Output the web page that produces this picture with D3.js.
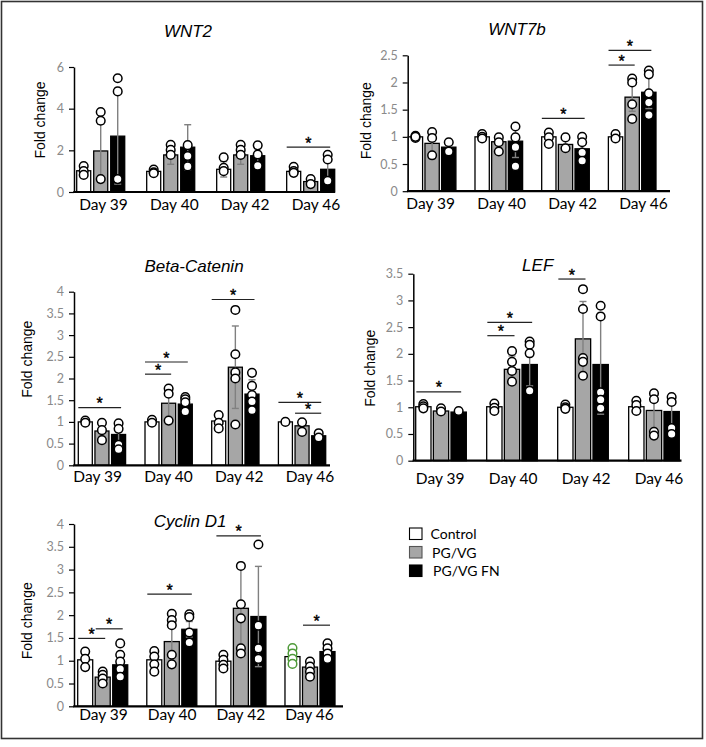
<!DOCTYPE html>
<html><head><meta charset="utf-8">
<script src="https://cdn.jsdelivr.net/npm/d3@7"></script>
<style>body{margin:0;background:#fff}</style>
</head><body><svg id="c" width="706" height="747"></svg>
<script>
// ---------------- DATA ----------------
const days = ["Day 39", "Day 40", "Day 42", "Day 46"];
const series = ["Control", "PG/VG", "PG/VG FN"];

// WNT2 : [series][day]
const wnt2Mean = [[1.02, 0.99, 1.09, 0.99], [1.97, 1.78, 1.78, 0.50], [2.68, 2.15, 1.74, 1.09]];
const wnt2Sd = [[0.2, 0.1, 0.37, 0.12], [1.28, 0.45, 0.45, 0.12], [2.3, 1.08, 0.45, 0.4]];
const wnt2Pts = [
  [[1.25, 1.0, 0.82], [1.08, 0.95, 0.9], [1.66, 1.16, 1.0], [1.21, 1.0, 0.92]],
  [[3.84, 3.42, 0.62], [2.27, 2.02, 1.78], [2.27, 2.02, 1.78], [0.62, 0.38]],
  [[5.46, 4.83, 0.62], [2.25, 1.73, 1.23], [2.24, 1.8, 1.26], [1.79, 1.56, 0.54]]
];
const wnt2Sig = [["Day 46", "Control", "PG/VG FN", 2.15]];
const wnt2Ticks = [0, 2, 4, 6];

// WNT7b
const wnt7bMean = [[1.0, 1.0, 1.0, 1.0], [0.88, 0.91, 0.86, 1.73], [0.81, 0.92, 0.78, 1.82]];
const wnt7bSd = [[0.02, 0.04, 0.1, 0.05], [0.2, 0.12, 0.1, 0.26], [0.08, 0.3, 0.18, 0.3]];
const wnt7bPts = [
  [[1.02, 0.98, 1.0], [1.05, 1.0, 0.97], [1.08, 0.99, 0.87], [1.05, 0.97]],
  [[1.09, 0.98, 0.66], [0.99, 0.9, 0.73], [0.99, 0.79], [2.07, 2.0, 1.6, 1.33]],
  [[0.9, 0.73], [1.19, 0.99, 0.81, 0.46], [1.0, 0.9, 0.71, 0.56], [2.22, 2.15, 1.8, 1.63, 1.4]]
];
const wnt7bSig = [["Day 42", "Control", "PG/VG FN", 1.34], ["Day 46", "Control", "PG/VG", 2.32], ["Day 46", "Control", "PG/VG FN", 2.59]];
const wnt7bTicks = [0, 0.5, 1, 1.5, 2, 2.5];

// Beta-Catenin
const betaMean = [[1.0, 1.0, 1.02, 1.0], [0.79, 1.43, 2.26, 0.91], [0.71, 1.41, 1.64, 0.68]];
const betaSd = [[0.03, 0.03, 0.13, 0.02], [0.17, 0.33, 0.95, 0.1], [0.27, 0.14, 0.33, 0.04]];
const betaPts = [
  [[1.03, 0.98], [1.05, 0.98], [1.16, 0.98, 0.85], [1.0]],
  [[0.98, 0.81, 0.58], [1.77, 1.65, 1.03], [3.58, 2.56, 2.14, 2.0, 0.94], [0.99, 0.77]],
  [[0.97, 0.84, 0.47, 0.37], [1.57, 1.52, 1.45, 1.24], [2.13, 1.83, 1.62, 1.47, 1.27], [0.74, 0.64]]
];
const betaSig = [["Day 39", "Control", "PG/VG FN", 1.33], ["Day 40", "Control", "PG/VG", 2.10], ["Day 40", "Control", "PG/VG FN", 2.38],
  ["Day 42", "Control", "PG/VG FN", 3.82], ["Day 46", "Control", "PG/VG FN", 1.45], ["Day 46", "PG/VG", "PG/VG FN", 1.20]];
const betaTicks = [0, 0.5, 1, 1.5, 2, 2.5, 3, 3.5, 4];

// LEF
const lefMean = [[1.01, 1.01, 1.0, 1.01], [0.93, 1.71, 2.28, 0.94], [0.91, 1.80, 1.80, 0.92]];
const lefSd = [[0.03, 0.05, 0.03, 0.08], [0.04, 0.25, 0.7, 0.37], [0.02, 0.4, 0.93, 0.32]];
const lefPts = [
  [[1.06, 1.02, 0.98], [1.07, 0.99, 0.93], [1.05, 1.0, 0.97], [1.12, 1.04, 0.93]],
  [[0.98, 0.92], [2.05, 1.85, 1.68, 1.48], [3.21, 2.84, 1.92, 1.85, 1.59], [1.26, 1.15, 0.54, 0.47]],
  [[0.93], [2.23, 2.17, 2.01, 1.31], [2.9, 2.7, 1.28, 1.14, 0.98], [1.19, 1.10, 0.61, 0.5]]
];
const lefSig = [["Day 39", "Control", "PG/VG FN", 1.29], ["Day 40", "Control", "PG/VG", 2.34], ["Day 40", "Control", "PG/VG FN", 2.59], ["Day 42", "Control", "PG/VG", 3.40]];
const lefTicks = [0, 0.5, 1, 1.5, 2, 2.5, 3, 3.5];

// Cyclin D1
const cycMean = [[1.02, 1.02, 0.99, 1.09], [0.64, 1.42, 2.15, 0.86], [0.91, 1.69, 1.97, 1.20]];
const cycSd = [[0.15, 0.18, 0.12, 0.15], [0.1, 0.45, 0.88, 0.14], [0.29, 0.17, 1.1, 0.14]];
const cycPts = [
  [[1.2, 1.04, 0.86], [1.21, 1.09, 0.92, 0.76], [1.13, 1.02, 0.91, 0.83], [1.28, 1.16, 1.04, 0.93]],
  [[0.76, 0.69, 0.61, 0.5], [2.03, 1.89, 1.78, 1.13, 0.92], [3.08, 2.24, 1.93, 1.27, 1.16], [0.98, 0.87, 0.76, 0.65]],
  [[1.38, 1.13, 0.98, 0.82, 0.65], [2.02, 1.96, 1.62, 1.4], [3.55, 1.77, 1.27, 1.04], [1.38, 1.27, 1.16, 1.04]]
];
const cycSig = [["Day 39", "Control", "PG/VG", 1.49], ["Day 39", "PG/VG", "PG/VG FN", 1.70], ["Day 40", "Control", "PG/VG FN", 2.46],
  ["Day 42", "Control", "PG/VG FN", 3.74], ["Day 46", "PG/VG", "PG/VG FN", 1.78]];
const cycTicks = [0, 0.5, 1, 1.5, 2, 2.5, 3, 3.5, 4];
const highlightedPoints = [["Cyclin D1", "Day 46", "Control"]];

const genes = [
  {name: "WNT2", mean: wnt2Mean, sd: wnt2Sd, pts: wnt2Pts, sig: wnt2Sig, ticks: wnt2Ticks},
  {name: "WNT7b", mean: wnt7bMean, sd: wnt7bSd, pts: wnt7bPts, sig: wnt7bSig, ticks: wnt7bTicks},
  {name: "Beta-Catenin", mean: betaMean, sd: betaSd, pts: betaPts, sig: betaSig, ticks: betaTicks},
  {name: "LEF", mean: lefMean, sd: lefSd, pts: lefPts, sig: lefSig, ticks: lefTicks},
  {name: "Cyclin D1", mean: cycMean, sd: cycSd, pts: cycPts, sig: cycSig, ticks: cycTicks}
];

// ---------------- LAYOUT ----------------
const layout = {
  "WNT2":         {ax: 74,    xEnd: 335,   y0: 192,   yTop: 67,    bars: [76.7, 334.7],  gp: 0.314, bp: 0.176, title: [188, 37],  ylab: [45, 120],    labs: [103.5, 316],   labY: 210},
  "WNT7b":        {ax: 407.7, xEnd: 670,   y0: 191.2, yTop: 55.3,  bars: [408.3, 656],   gp: 0.286, bp: 0.141, title: [517, 35],  ylab: [371.3, 120.7], labs: [430.7, 643.5], labY: 209},
  "Beta-Catenin": {ax: 74,    xEnd: 330,   y0: 465.3, yTop: 291.7, bars: [78.3, 325.7],  gp: 0.291, bp: 0.159, title: [194, 272.3], ylab: [32.3, 359.2], labs: [97.7, 310],   labY: 481.7},
  "LEF":          {ax: 413.3, xEnd: 681.5, y0: 460.7, yTop: 273.7, bars: [415.7, 679.3], gp: 0.287, bp: 0.133, title: [537.7, 270.7], ylab: [375.3, 368.3], labs: [440.2, 659], labY: 484},
  "Cyclin D1":    {ax: 74,    xEnd: 343,   y0: 706.3, yTop: 524,   bars: [77.7, 335],    gp: 0.276, bp: 0.143, title: [190, 526.7], ylab: [32.3, 620.8], labs: [103.5, 309.5], labY: 720}
};
const fills = {"Control": "#ffffff", "PG/VG": "#a6a6a6", "PG/VG FN": "#000000"};
const calibri = "Lato, 'Open Sans', sans-serif";
const arial = "'Liberation Sans', Arial, sans-serif";

const svg = d3.select("#c");
svg.append("rect").attr("x", 1.5).attr("y", 1.5).attr("width", 701).attr("height", 737)
  .attr("fill", "#fff").attr("stroke", "#333").attr("stroke-width", 1.6);

genes.forEach(gene => {
  const L = layout[gene.name];
  const ymax = d3.max(gene.ticks);
  const g = svg.append("g");
  const x = d3.scaleBand().domain(days).range(L.bars).paddingInner(L.gp).paddingOuter(0);
  const xs = d3.scaleBand().domain(series).range([0, x.bandwidth()]).paddingInner(L.bp).paddingOuter(0);
  const y = d3.scaleLinear().domain([0, ymax]).range([L.y0, L.yTop]);
  const cx = (d, s) => x(d) + xs(s) + xs.bandwidth() / 2;

  // y axis
  const ya = g.append("g").attr("transform", `translate(${L.ax},0)`)
    .call(d3.axisLeft(y).tickValues(gene.ticks).tickSize(5).tickSizeOuter(0).tickPadding(5).tickFormat(d3.format("~g")));
  ya.select(".domain").attr("stroke", "#000").attr("stroke-width", 1.5);
  ya.selectAll(".tick line").attr("stroke", "#000").attr("stroke-width", 1.2);
  ya.selectAll(".tick text").attr("fill", "#8a8a8a").style("font-family", calibri).style("font-size", "12.5px");

  // bars
  series.forEach((s, si) => {
    days.forEach((d, di) => {
      const m = gene.mean[si][di];
      g.append("rect").attr("x", x(d) + xs(s)).attr("y", y(m))
        .attr("width", xs.bandwidth()).attr("height", y(0) - y(m))
        .attr("fill", fills[s]).attr("stroke", "#000").attr("stroke-width", 1.3);
    });
  });

  // x axis line
  g.append("line").attr("x1", L.ax - 0.75).attr("x2", L.xEnd).attr("y1", y(0)).attr("y2", y(0))
    .attr("stroke", "#000").attr("stroke-width", 2.2);

  // error bars
  series.forEach((s, si) => {
    days.forEach((d, di) => {
      const m = gene.mean[si][di], sd = gene.sd[si][di];
      const c = cx(d, s);
      const lo = y(Math.max(0, m - sd)), hi = y(m + sd);
      const eg = g.append("g").attr("stroke", "#808080").attr("stroke-width", 1.4);
      eg.append("line").attr("x1", c).attr("x2", c).attr("y1", lo).attr("y2", hi);
      eg.append("line").attr("x1", c - 3.5).attr("x2", c + 3.5).attr("y1", hi).attr("y2", hi);
      eg.append("line").attr("x1", c - 3.5).attr("x2", c + 3.5).attr("y1", lo).attr("y2", lo);
    });
  });

  // points
  series.forEach((s, si) => {
    days.forEach((d, di) => {
      const hl = highlightedPoints.some(h => h[0] === gene.name && h[1] === d && h[2] === s);
      gene.pts[si][di].forEach(v => {
        g.append("circle").attr("cx", cx(d, s)).attr("cy", y(v)).attr("r", 4.3)
          .attr("fill", "#fff").attr("stroke", hl ? "#4f9a3a" : "#000").attr("stroke-width", 1.5);
      });
    });
  });

  // significance
  gene.sig.forEach(([d, a, b, lvl]) => {
    const x1 = cx(d, a) - 7, x2 = cx(d, b) + 2.5;
    g.append("line").attr("x1", x1).attr("x2", x2).attr("y1", y(lvl)).attr("y2", y(lvl))
      .attr("stroke", "#222").attr("stroke-width", 1.2);
    g.append("text").attr("x", (x1 + x2) / 2).attr("y", y(lvl) + 1.5).attr("text-anchor", "middle")
      .attr("stroke", "#000").attr("stroke-width", 0.4)
      .style("font-family", arial).style("font-size", "16px").text("*");
  });

  // day labels
  const lx = d3.scalePoint().domain(days).range(L.labs);
  g.selectAll(".daylab").data(days).enter().append("text")
    .attr("x", d => lx(d)).attr("y", L.labY).attr("text-anchor", "middle")
    .style("font-family", calibri).style("font-size", "15.5px").attr("fill", "#000").text(d => d);

  // title
  g.append("text").attr("x", L.title[0]).attr("y", L.title[1]).attr("text-anchor", "middle")
    .style("font-family", arial).style("font-style", "italic").style("font-size", "17px").text(gene.name);

  // y label
  g.append("text").attr("transform", `translate(${L.ylab[0]},${L.ylab[1]}) rotate(-90)`)
    .attr("text-anchor", "middle").style("font-family", arial).style("font-size", "14px").text("Fold change");
});

// legend
const lg = svg.append("g");
const legY = d3.scalePoint().domain(series).range([534, 571]);
series.forEach(s => {
  lg.append("rect").attr("x", 409.5).attr("y", legY(s) - 6).attr("width", 12.5).attr("height", 11.5)
    .attr("fill", fills[s]).attr("stroke", s === "PG/VG" ? "#555" : "#000").attr("stroke-width", 1.1);
});
[["Control", 430.5], ["PG/VG", 432], ["PG/VG FN", 433]].forEach(([s, tx]) => {
  lg.append("text").attr("x", tx).attr("y", legY(s) + 5).style("font-family", calibri)
    .style("font-size", "14px").text(s);
});
</script></body></html>
